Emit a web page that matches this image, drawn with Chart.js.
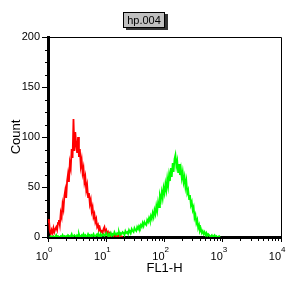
<!DOCTYPE html>
<html><head><meta charset="utf-8">
<script src="https://cdn.jsdelivr.net/npm/chart.js@4"></script>
<style>
html,body{margin:0;padding:0;background:#fff;}
#wrap{position:relative;width:288px;height:288px;}
#title{position:absolute;left:123px;top:12px;width:40px;height:14px;background:#c0c0c0;border:1px solid #000;box-shadow:3px 2px 0 #333;font:11px "Liberation Sans",Arial,sans-serif;text-align:center;line-height:15px;color:#000;}
</style></head>
<body>
<div id="wrap"><canvas id="c" width="288" height="288"></canvas><div id="title">hp.004</div></div>
<script>
const channelsPerDecade = 64;
const redStart = 0;
const redCounts = [15,18,6,3,7,4,9,5,8,10,7,14,17,12,24,20,33,28,41,47,39,56,63,55,74,69,88,79,118,86,105,92,84,100,80,88,71,77,64,69,55,60,47,52,40,44,33,37,26,30,20,23,15,18,10,12,7,9,5,6,4,8,10,5,7,3,5,2,4,1,3,2,1,3,1,2,0,1,2,0,1,0,1];
const greenStart = 2;
const greenCounts = [
0,1,0,0,1,0,0,2,0,1,0,0,1,0,2,0,1,0,1,
0,2,1,0,1,3,0,1,2,1,0,2,1,3,0,1,2,0,3,1,
2,0,1,3,1,2,0,2,1,3,1,0,2,3,1,2,0,3,1,2,
3,1,2,4,2,1,3,2,4,1,3,2,5,3,2,4,3,5,2,4,
3,5,4,2,6,4,5,3,7,5,4,8,6,5,9,7,6,10,8,11,
9,12,10,14,11,15,13,12,17,15,19,16,21,18,24,20,27,23,31,26,
35,30,41,37,45,39,49,44,53,47,58,51,62,56,69,60,74,65,78,82,
71,76,64,73,62,68,59,65,55,60,50,56,44,47,38,42,32,35,27,30,
19,22,14,17,9,12,6,8,4,6,3,5,2,4,1,3,2,0,1,2,
0,1,2,0,1,0,0,1,0,0];
const xTickValues = [1,10,100,1000,10000];
const xTickBase = '10';
const xTickExponents = ['0','1','2','3','4'];
const yMax = 200;
const yStep = 50;
const yMinorStep = 12.5;
const xTitle = 'FL1-H';
const yTitle = 'Count';

const toPoints = (start, arr) => arr.map((c, i) => ({x: Math.pow(10, (start + i) / channelsPerDecade), y: c}));
const FONT = '"Liberation Sans", Arial, sans-serif';

const frame = {
  id: 'frame',
  afterDraw(chart) {
    const {ctx, chartArea: a, scales: {x, y}} = chart;
    ctx.save();
    ctx.strokeStyle = '#000';
    ctx.lineWidth = 1;
    ctx.beginPath();
    for (let d = 1; d < 10000; d *= 10) {
      for (let m = 2; m <= 9; m++) {
        const px = Math.round(x.getPixelForValue(d * m)) + 0.5;
        ctx.moveTo(px, a.bottom); ctx.lineTo(px, a.bottom + 4);
      }
    }
    for (let v = yMinorStep; v < yMax; v += yMinorStep) {
      if (v % yStep === 0) continue;
      const py = Math.round(y.getPixelForValue(v)) + 0.5;
      ctx.moveTo(a.left - 3, py); ctx.lineTo(a.left, py);
    }
    ctx.stroke();
    ctx.beginPath();
    ctx.moveTo(a.left, a.top + 0.5);
    ctx.lineTo(a.right + 0.5, a.top + 0.5);
    ctx.lineTo(a.right + 0.5, a.bottom);
    ctx.stroke();
    ctx.fillStyle = '#000';
    ctx.textBaseline = 'alphabetic';
    xTickValues.forEach((v, i) => {
      const px = x.getPixelForValue(v);
      ctx.font = '11px ' + FONT;
      ctx.textAlign = 'right';
      ctx.fillText(xTickBase, px, a.bottom + 23);
      ctx.font = '8px ' + FONT;
      ctx.textAlign = 'left';
      ctx.fillText(xTickExponents[i], px, a.bottom + 15);
    });
    ctx.restore();
  }
};

new Chart(document.getElementById('c'), {
  type: 'line',
  data: {
    datasets: [
      {data: toPoints(greenStart, greenCounts), borderColor: '#00ff00', borderWidth: 1.8, pointRadius: 0, tension: 0, fill: false},
      {data: toPoints(redStart, redCounts), borderColor: '#ff0000', borderWidth: 1.8, pointRadius: 0, tension: 0, fill: false}
    ]
  },
  options: {
    responsive: false,
    animation: false,
    layout: {padding: {left: 0, right: 7, top: 37, bottom: 0}},
    plugins: {legend: {display: false}, tooltip: {enabled: false}},
    scales: {
      x: {
        type: 'logarithmic', min: 1, max: 10000,
        afterBuildTicks: s => { s.ticks = xTickValues.map(v => ({value: v, major: true})); },
        ticks: {display: false},
        grid: {drawOnChartArea: false, drawTicks: true, tickLength: 5, tickColor: '#000', tickWidth: 1},
        border: {display: true, color: '#000', width: 3},
        title: {display: true, text: xTitle, font: {size: 13, family: FONT}, color: '#000', padding: {top: 0, bottom: 12}},
        afterFit: s => { s.height = 51; s.paddingLeft = 0; s.paddingRight = 0; }
      },
      y: {
        min: 0, max: yMax,
        ticks: {stepSize: yStep, font: {size: 11, family: FONT}, color: '#000', padding: 2},
        grid: {drawOnChartArea: false, drawTicks: true, tickLength: 6, tickColor: '#000', tickWidth: 1},
        border: {display: true, color: '#000', width: 3},
        title: {display: true, text: yTitle, font: {size: 13, family: FONT}, color: '#000', padding: {top: 9, bottom: 0}},
        afterFit: s => { s.width = 48; s.paddingTop = 0; s.paddingBottom = 0; }
      }
    }
  },
  plugins: [frame]
});
</script>
</body></html>
